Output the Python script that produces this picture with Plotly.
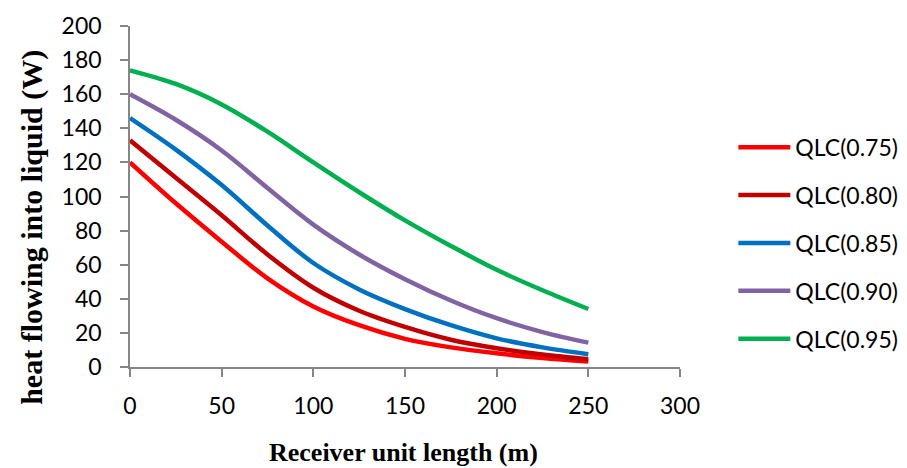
import plotly.graph_objects as go

x_vals = [0, 25, 50, 75, 100, 125, 150, 175, 200, 225, 250]
qlc_075 = [120, 96.0, 73.5, 52.0, 35.5, 24.5, 16.5, 11.5, 8.0, 5.3, 3.2]
qlc_080 = [133, 111.0, 89.0, 66.0, 46.5, 33.0, 23.5, 16.0, 11.0, 7.3, 4.6]
qlc_085 = [146, 127.5, 106.7, 83.0, 61.0, 45.5, 34.0, 24.5, 16.8, 11.5, 7.5]
qlc_090 = [160, 145.0, 127.0, 105.0, 83.5, 66.0, 51.5, 39.0, 28.6, 20.5, 14.3]
qlc_095 = [174, 166.0, 154.0, 138.0, 120.0, 102.5, 86.0, 71.0, 57.0, 45.0, 34.0]

names = ["QLC(0.75)", "QLC(0.80)", "QLC(0.85)", "QLC(0.90)", "QLC(0.95)"]
series = [qlc_075, qlc_080, qlc_085, qlc_090, qlc_095]
colors = ["#FF0000", "#C00000", "#0070C0", "#8064A2", "#00B050"]

x_ticks = [0, 50, 100, 150, 200, 250, 300]
y_ticks = [0, 20, 40, 60, 80, 100, 120, 140, 160, 180, 200]

fig = go.Figure()
for nm, ys, c in zip(names, series, colors):
    fig.add_trace(go.Scatter(x=x_vals, y=ys, mode="lines", name=nm,
                             legendgroup=nm,
                             line=dict(color=c, width=4.5, shape="spline", smoothing=1.0)))

axis_color = "#868686"
tick_font = dict(family="Lato, 'Open Sans', sans-serif", size=23, color="black")
legend_font = dict(family="Lato, 'Open Sans', sans-serif", size=23, color="black")
fig.update_layout(
    width=907, height=468,
    margin=dict(l=122, r=227, t=18, b=109),
    paper_bgcolor="white", plot_bgcolor="white",
    font=tick_font,
    showlegend=True,
    legend=dict(x=1.097, xanchor="left", xref="paper", y=0.363, yanchor="middle",
                font=legend_font, tracegroupgap=15, itemwidth=52,
                bgcolor="rgba(0,0,0,0)"),
    xaxis=dict(range=[0, 300], tickvals=x_ticks, ticktext=[str(v) for v in x_ticks],
               showline=True, linecolor=axis_color, linewidth=1.5,
               ticks="outside", ticklen=8, tickcolor=axis_color, tickwidth=1.5,
               showgrid=False, zeroline=False, ticklabelstandoff=10,
               tickfont=tick_font, automargin=False),
    yaxis=dict(range=[0, 200], tickvals=y_ticks, ticktext=[str(v) for v in y_ticks],
               showline=True, linecolor=axis_color, linewidth=1.5,
               ticks="outside", ticklen=8, tickcolor=axis_color, tickwidth=1.5,
               showgrid=False, zeroline=False, ticklabelstandoff=14,
               tickfont=tick_font, automargin=False),
    annotations=[
        dict(text="<b>Receiver unit length (m)</b>", xref="paper", yref="paper",
             x=0.498, y=-0.252, xanchor="center", yanchor="middle", showarrow=False,
             font=dict(family="'Liberation Serif', 'Times New Roman', serif", size=26)),
        dict(text="<b>heat flowing into liquid (W)</b>", xref="paper", yref="paper",
             x=-0.177, y=0.41, xanchor="center", yanchor="middle", showarrow=False,
             textangle=-90,
             font=dict(family="'Liberation Serif', 'Times New Roman', serif", size=30)),
    ],
)

fig.write_html("out.html")
